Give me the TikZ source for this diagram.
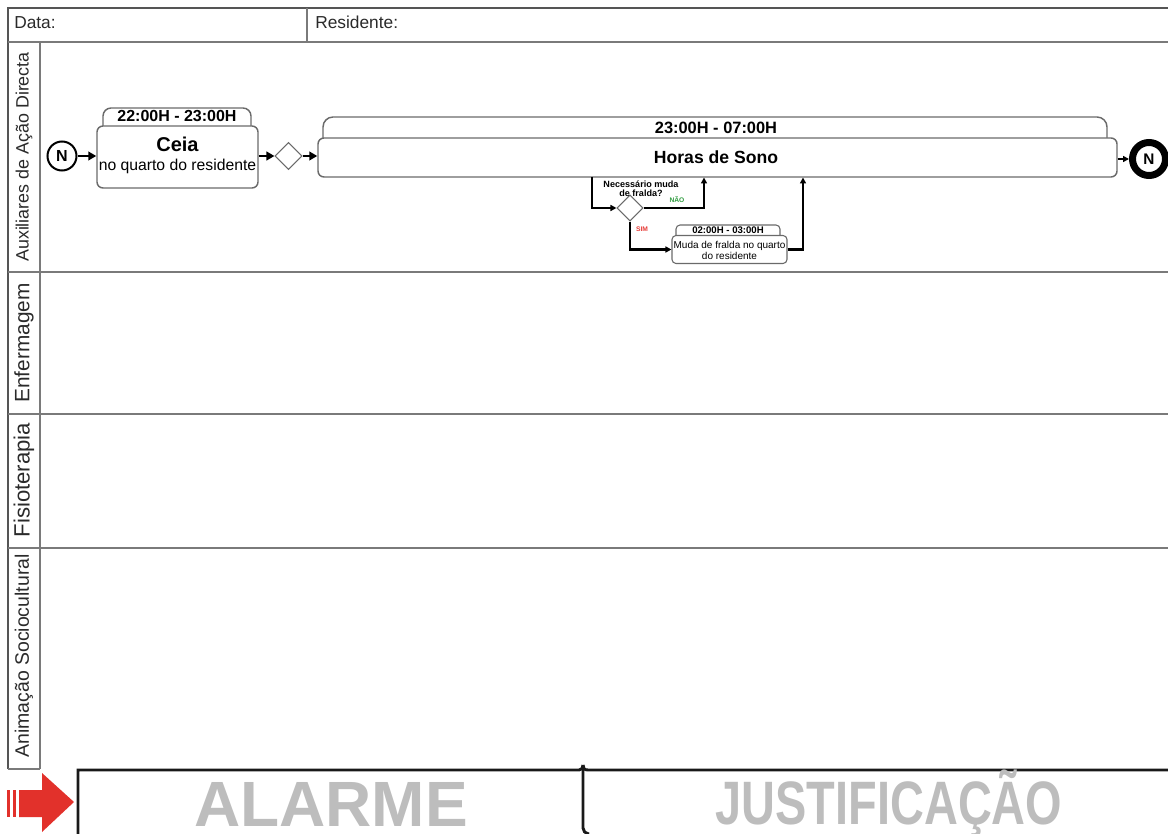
\documentclass[tikz,border=0pt]{standalone}
\usepackage{fontspec}
\usepackage{graphicx}
\setmainfont{Liberation Sans}
\usetikzlibrary{shapes.geometric,arrows.meta}
\definecolor{laneline}{HTML}{7A7A7A}
\definecolor{headline}{HTML}{555555}
\definecolor{boxline}{HTML}{6A6A6A}
\definecolor{alarmred}{HTML}{E2312B}
\definecolor{wmgray}{HTML}{BDBDBD}
\definecolor{simred}{HTML}{E53935}
\definecolor{naogreen}{HTML}{2E9B3E}
\definecolor{labeltext}{HTML}{2A2A2A}

\begin{document}
\begin{tikzpicture}[x=0.75pt,y=-0.75pt,
  lane/.style={draw=laneline,line width=0.9pt},
  lanelabel/.style={rotate=90,text=labeltext,inner sep=0},
  task/.style={draw=boxline,line width=1.1pt,rounded corners=4.5pt,fill=white,inner sep=0},
  tab/.style={draw=boxline,line width=1.1pt,fill=white},
  flow/.style={line width=2.2pt,-{Triangle[length=6pt,width=6.5pt]}},
  endflow/.style={line width=1.4pt,-{Triangle[length=4.5pt,width=4.5pt]}},
  dflow/.style={line width=1.9pt,-{Triangle[length=4.5pt,width=4.5pt]}},
  gate/.style={diamond,draw=boxline,line width=0.8pt,fill=white,inner sep=0,aspect=1},
  bracket/.style={line width=2.2pt,black!90},
  ]
\useasboundingbox (0,0) rectangle (1168,834);
\clip (0,0) rectangle (1168,834);

% header row
\draw[draw=headline,line width=0.9pt] (8,769) |- (1168,8);
\draw[lane] (8,42) -- (1168,42);
\draw[lane] (307,8) -- (307,42);
\node[anchor=base west,inner sep=0,text=labeltext,font=\fontsize{13}{15}\selectfont] (data) at (14,29) {Data:};
\node[anchor=base west,inner sep=0,text=labeltext,font=\fontsize{13}{15}\selectfont] (res) at (315,29) {Residente:};

% swimlanes
\draw[lane] (8,272) -- (1168,272);
\draw[lane] (8,414) -- (1168,414);
\draw[lane] (8,548) -- (1168,548);
\draw[lane] (40,42) -- (40,769);
\draw[lane] (8,769) -- (40,769);
\node[lanelabel,font=\fontsize{13.4}{16}\selectfont] (l1) at (24,157) {Auxiliares de Ação Directa};
\node[lanelabel,font=\fontsize{15.6}{18}\selectfont] (l2) at (24,343) {Enfermagem};
\node[lanelabel,font=\fontsize{16.6}{18}\selectfont] (l3) at (24,480) {Fisioterapia};
\node[lanelabel,font=\fontsize{14.6}{18}\selectfont] (l4) at (24,656) {Animação Sociocultural};

% start event
\node[circle,draw=black,line width=1.5pt,minimum size=21.75pt,inner sep=0,
      font=\bfseries\fontsize{12}{12}\selectfont] (start) at (62,156) {N};

% Ceia task
\draw[tab,rounded corners=6pt] (103,127) |- (251,108) -- (251,127);
\node[anchor=base,inner sep=0,font=\bfseries\fontsize{12}{12}\selectfont] (ceiatime) at (177,122) {22:00H - 23:00H};
\node[task,minimum width=120.75pt,minimum height=46.5pt] (ceia) at (177.5,157) {};
\node[anchor=base,inner sep=0,font=\bfseries\fontsize{15}{15}\selectfont] (ceiatitle) at (177.5,152) {Ceia};
\node[anchor=base,inner sep=0,font=\fontsize{11.8}{12}\selectfont] (ceiasub) at (177.5,171) {no quarto do residente};

% gateway
\node[gate,minimum size=20.25pt] (g1) at (288.5,156) {};

% Horas de Sono task
\draw[tab,rounded corners=7.5pt] (323,139) |- (1107,117) -- (1107,139);
\node[anchor=base,inner sep=0,font=\bfseries\fontsize{12.3}{12}\selectfont] (sonotime) at (716,134) {23:00H - 07:00H};
\node[task,minimum width=599.25pt,minimum height=29.25pt] (horas) at (717.5,157.5) {};
\node[anchor=base,inner sep=0,font=\bfseries\fontsize{13.2}{13}\selectfont] (sonotitle) at (716,163.5) {Horas de Sono};

% end event
\node[circle,draw=black,line width=5.25pt,minimum size=24.75pt,inner sep=0,fill=white,
      font=\bfseries\fontsize{11.5}{12}\selectfont] (end) at (1149,159) {N};

% main flow
\draw[flow] (start.east) -- (start.east -| ceia.west);
\draw[flow] (g1.west -| ceia.east) -- (g1.west);
\draw[flow] (g1.east) -- (g1.east -| horas.west);
\draw[endflow] (end.west -| horas.east) -- (end.west);

% nappy-change check during the night
\node[gate,minimum size=19.5pt] (g2) at (630,208) {};
\node[align=center,inner sep=0,font=\bfseries\fontsize{6.8}{6.8}\selectfont] (qtext) at (641,189) {Necessário muda\\de fralda?};
\node[inner sep=0,text=naogreen,font=\bfseries\fontsize{5}{5}\selectfont] (nao) at (677,200) {NÃO};
\node[inner sep=0,text=simred,font=\bfseries\fontsize{5}{5}\selectfont] (sim) at (642,229) {SIM};

\draw[tab,line width=0.8pt,rounded corners=3pt] (676,236) |- (780,225) -- (780,236);
\node[anchor=base,inner sep=0,font=\bfseries\fontsize{7.2}{7.2}\selectfont] (subtime) at (728,233.5) {02:00H - 03:00H};
\node[task,line width=0.8pt,rounded corners=3pt,minimum width=86.25pt,minimum height=21pt] (sub) at (729.5,249.5) {};
\node[align=center,inner sep=0,font=\fontsize{7.5}{8.25}\selectfont] (subtext) at (729.5,250) {Muda de fralda no quarto\\do residente};

\coordinate (n1) at (592,177);
\coordinate (n2) at (704,177.5);
\coordinate (n3) at (803,177.5);
\draw[dflow] (n1) |- (g2.west);
\draw[dflow] (g2.east) -| (n2);
\draw[dflow] (g2.south) |- (sub.west);
\draw[dflow] (sub.east) -| (n3);

% alarm and justification fields
\fill[alarmred] (7,790) rectangle (10,817);
\fill[alarmred] (13,790) rectangle (16,817);
\fill[alarmred] (19,790) -- (42,790) -- (42,773) -- (74,802) -- (42,832) -- (42,817) -- (19,817) -- cycle;

\draw[bracket] (78,840) -- (78,770) -- (579,770) .. controls (582,770) and (583,768) .. (583,765);
\draw[bracket] (583,765) .. controls (583,768) and (584,770) .. (588,770) -- (1170,770);
\draw[bracket] (583,770) -- (583,828) .. controls (583,831) and (585,833) .. (589,834);
\node[anchor=base,inner sep=0,text=wmgray,font=\bfseries\fontsize{48}{48}\selectfont] (alarme) at (331,826) {ALARME};
\node[anchor=base,inner sep=0,text=wmgray,font=\bfseries\fontsize{46}{46}\selectfont] (just) at (889,824) {\scalebox{0.765}[1]{JUSTIFICAÇÃO}};
\end{tikzpicture}
\end{document}
